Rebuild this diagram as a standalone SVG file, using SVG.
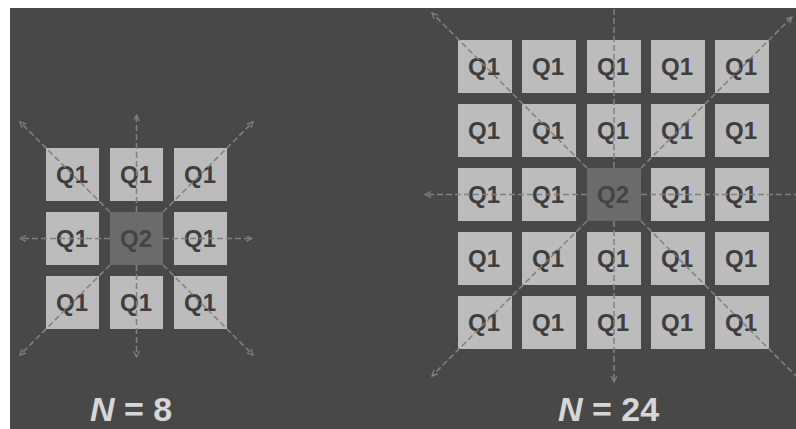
<svg xmlns="http://www.w3.org/2000/svg" width="796" height="429" viewBox="0 0 796 429">
<defs>
<style>
.c{fill:#bcbcbc}
.c2{fill:#6b6b6b}
.t{font-family:"Liberation Sans",Arial,sans-serif;font-weight:bold;font-size:24px;fill:#3e3e3e;text-anchor:middle}
.t2{fill:#444444}
.ln{stroke:#808080;stroke-width:1.5;stroke-dasharray:6 3;fill:none}
.lbl{font-family:"Liberation Sans",Arial,sans-serif;font-weight:bold;font-size:34px;fill:#d6d6d6}
</style>
<marker id="ah" markerWidth="8" markerHeight="8" refX="6" refY="3" orient="auto" markerUnits="userSpaceOnUse">
<path d="M0,0 L6,3 L0,6" fill="none" stroke="#808080" stroke-width="1.2"/>
</marker>
</defs>
<rect width="796" height="429" fill="#ffffff"/>
<rect x="10" y="8" width="786" height="421" fill="#484848"/>

<!-- Left grid N=8 -->
<g id="L00"><rect class="c" x="46" y="148" width="53" height="53"/><text class="t" x="72" y="183">Q1</text></g>
<g id="L01"><rect class="c" x="110" y="148" width="53" height="53"/><text class="t" x="136" y="183">Q1</text></g>
<g id="L02"><rect class="c" x="174" y="148" width="53" height="53"/><text class="t" x="200" y="183">Q1</text></g>
<g id="L10"><rect class="c" x="46" y="212" width="53" height="53"/><text class="t" x="72" y="247">Q1</text></g>
<g id="L11"><rect class="c2" x="110" y="212" width="53" height="53"/><text class="t t2" x="136" y="247">Q2</text></g>
<g id="L12"><rect class="c" x="174" y="212" width="53" height="53"/><text class="t" x="200" y="247">Q1</text></g>
<g id="L20"><rect class="c" x="46" y="276" width="53" height="53"/><text class="t" x="72" y="311">Q1</text></g>
<g id="L21"><rect class="c" x="110" y="276" width="53" height="53"/><text class="t" x="136" y="311">Q1</text></g>
<g id="L22"><rect class="c" x="174" y="276" width="53" height="53"/><text class="t" x="200" y="311">Q1</text></g>

<!-- Right grid N=24 -->
<g id="R00"><rect class="c" x="458" y="40" width="54" height="53"/><text class="t" x="484" y="75">Q1</text></g>
<g id="R01"><rect class="c" x="522" y="40" width="54" height="53"/><text class="t" x="548" y="75">Q1</text></g>
<g id="R02"><rect class="c" x="587" y="40" width="54" height="53"/><text class="t" x="613" y="75">Q1</text></g>
<g id="R03"><rect class="c" x="651" y="40" width="54" height="53"/><text class="t" x="677" y="75">Q1</text></g>
<g id="R04"><rect class="c" x="715" y="40" width="54" height="53"/><text class="t" x="741" y="75">Q1</text></g>
<g id="R10"><rect class="c" x="458" y="104" width="54" height="53"/><text class="t" x="484" y="139">Q1</text></g>
<g id="R11"><rect class="c" x="522" y="104" width="54" height="53"/><text class="t" x="548" y="139">Q1</text></g>
<g id="R12"><rect class="c" x="587" y="104" width="54" height="53"/><text class="t" x="613" y="139">Q1</text></g>
<g id="R13"><rect class="c" x="651" y="104" width="54" height="53"/><text class="t" x="677" y="139">Q1</text></g>
<g id="R14"><rect class="c" x="715" y="104" width="54" height="53"/><text class="t" x="741" y="139">Q1</text></g>
<g id="R20"><rect class="c" x="458" y="168" width="54" height="53"/><text class="t" x="484" y="203">Q1</text></g>
<g id="R21"><rect class="c" x="522" y="168" width="54" height="53"/><text class="t" x="548" y="203">Q1</text></g>
<g id="R22"><rect class="c2" x="587" y="168" width="54" height="53"/><text class="t t2" x="613" y="203">Q2</text></g>
<g id="R23"><rect class="c" x="651" y="168" width="54" height="53"/><text class="t" x="677" y="203">Q1</text></g>
<g id="R24"><rect class="c" x="715" y="168" width="54" height="53"/><text class="t" x="741" y="203">Q1</text></g>
<g id="R30"><rect class="c" x="458" y="232" width="54" height="53"/><text class="t" x="484" y="267">Q1</text></g>
<g id="R31"><rect class="c" x="522" y="232" width="54" height="53"/><text class="t" x="548" y="267">Q1</text></g>
<g id="R32"><rect class="c" x="587" y="232" width="54" height="53"/><text class="t" x="613" y="267">Q1</text></g>
<g id="R33"><rect class="c" x="651" y="232" width="54" height="53"/><text class="t" x="677" y="267">Q1</text></g>
<g id="R34"><rect class="c" x="715" y="232" width="54" height="53"/><text class="t" x="741" y="267">Q1</text></g>
<g id="R40"><rect class="c" x="458" y="296" width="54" height="53"/><text class="t" x="484" y="331">Q1</text></g>
<g id="R41"><rect class="c" x="522" y="296" width="54" height="53"/><text class="t" x="548" y="331">Q1</text></g>
<g id="R42"><rect class="c" x="587" y="296" width="54" height="53"/><text class="t" x="613" y="331">Q1</text></g>
<g id="R43"><rect class="c" x="651" y="296" width="54" height="53"/><text class="t" x="677" y="331">Q1</text></g>
<g id="R44"><rect class="c" x="715" y="296" width="54" height="53"/><text class="t" x="741" y="331">Q1</text></g>

<g id="connectors" class="ln">
<line x1="110" y1="212" x2="20" y2="122" marker-end="url(#ah)"/>
<line x1="163" y1="212" x2="253" y2="122" marker-end="url(#ah)"/>
<line x1="110" y1="265" x2="20" y2="355" marker-end="url(#ah)"/>
<line x1="163" y1="265" x2="253" y2="355" marker-end="url(#ah)"/>
<line x1="136.5" y1="212" x2="136.5" y2="115" marker-end="url(#ah)"/>
<line x1="136.5" y1="265" x2="136.5" y2="357" marker-end="url(#ah)"/>
<line x1="110" y1="238.5" x2="20" y2="238.5" marker-end="url(#ah)"/>
<line x1="163" y1="238.5" x2="252" y2="238.5" marker-end="url(#ah)"/>

<line x1="587" y1="168" x2="432" y2="13" marker-end="url(#ah)"/>
<line x1="641" y1="168" x2="792" y2="17" marker-end="url(#ah)"/>
<line x1="587" y1="221" x2="432" y2="376" marker-end="url(#ah)"/>
<line x1="641" y1="221" x2="800" y2="380"/>
<line x1="614" y1="168" x2="614" y2="8"/>
<line x1="614" y1="221" x2="614" y2="382" marker-end="url(#ah)"/>
<line x1="587" y1="194.5" x2="425" y2="194.5" marker-end="url(#ah)"/>
<line x1="641" y1="194.5" x2="796" y2="194.5"/>
</g>

<text class="lbl" x="90" y="421"><tspan font-style="italic">N</tspan> = 8</text>
<text class="lbl" x="558" y="421"><tspan font-style="italic">N</tspan> = 24</text>
</svg>
